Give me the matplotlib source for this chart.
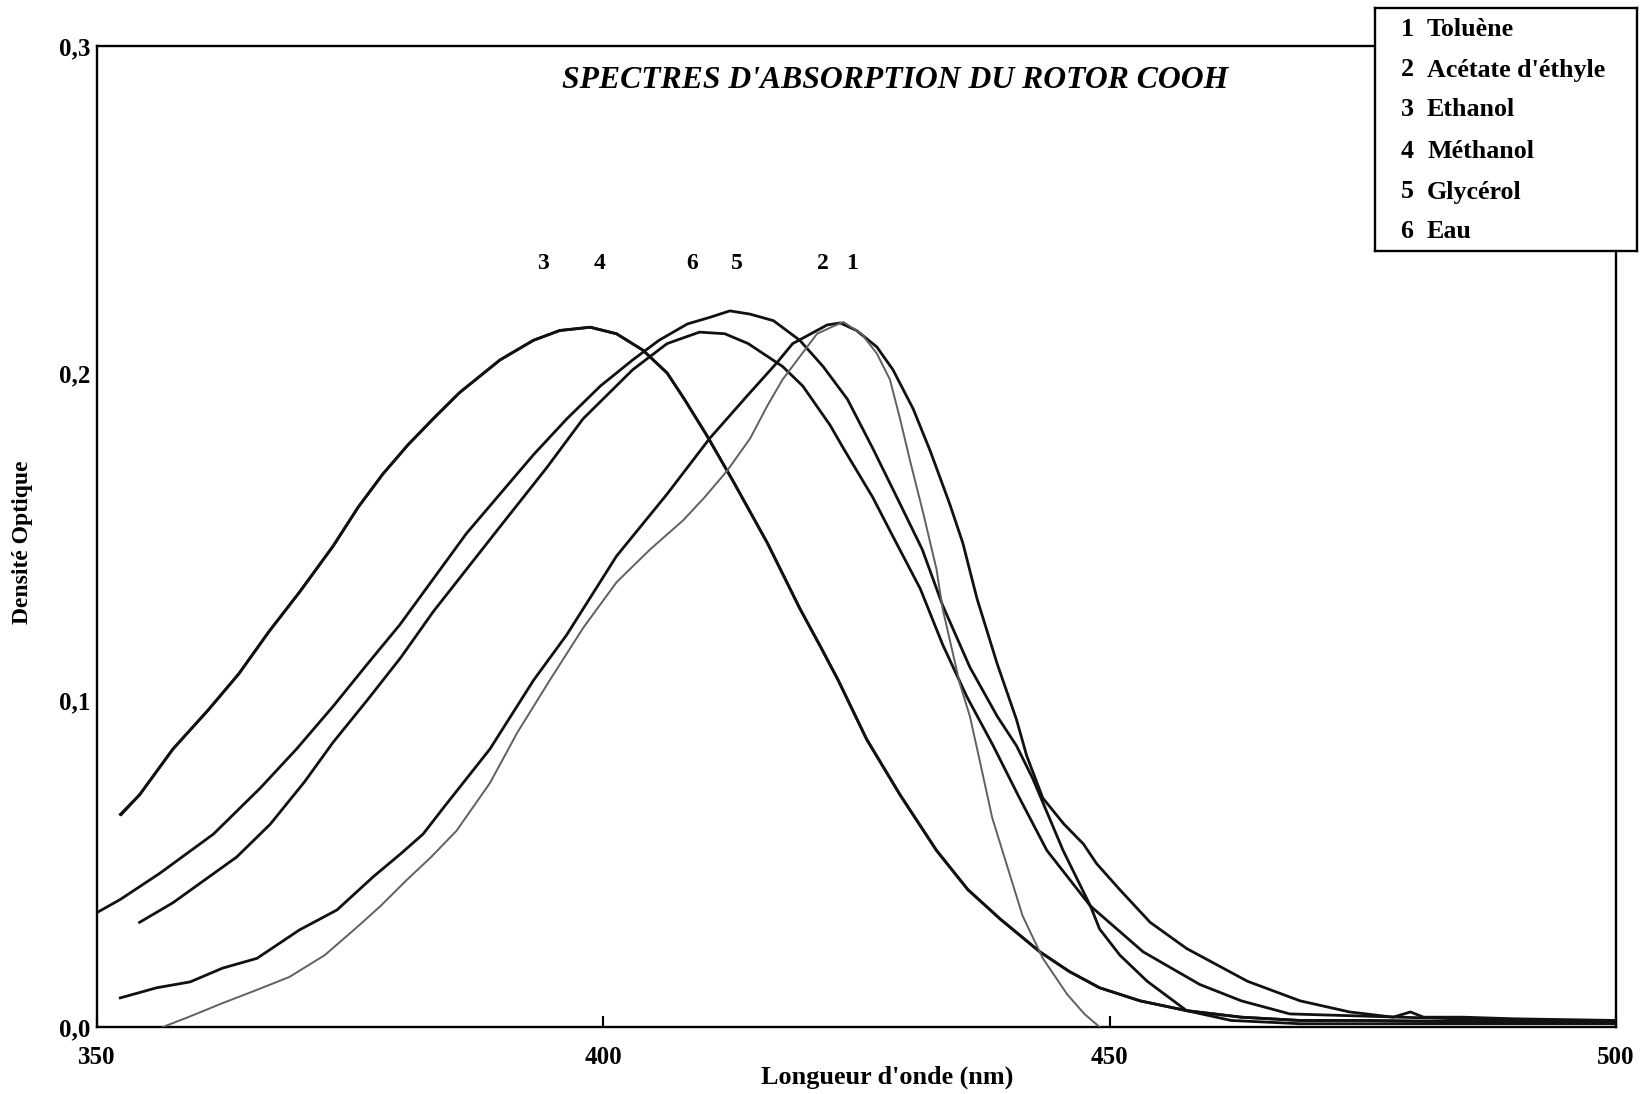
import matplotlib
matplotlib.use("Agg")
import matplotlib.pyplot as plt
from matplotlib.ticker import FixedLocator, FuncFormatter

plt.rcParams['font.family'] = ['Liberation Serif', 'DejaVu Serif']
plt.rcParams['font.weight'] = 'bold'

# --- donnees (longueur d'onde en nm, densite optique) ---
# 1 Toluene (trait gris)
wl1 = [356.5, 359.0, 362.4, 365.5, 369.0, 372.5, 375.7, 378.0, 380.6, 383.0, 385.5, 388.8,
       391.5, 394.7, 398.0, 401.3, 404.6, 407.9, 410.0, 412.2, 414.5, 416.2, 417.7, 419.4,
       421.1, 422.5, 423.7, 425.5, 427.0, 428.3, 429.3, 430.3, 431.6, 432.9, 433.5, 435.2,
       436.2, 437.2, 438.4, 439.2, 441.4, 443.4, 445.8, 447.5, 449.0]
do1 = [0.0, 0.003, 0.0073, 0.011, 0.0153, 0.022, 0.0306, 0.037, 0.045, 0.052, 0.060, 0.0746,
       0.090, 0.106, 0.122, 0.136, 0.146, 0.155, 0.162, 0.170, 0.180, 0.190, 0.198, 0.205,
       0.212, 0.214, 0.2156, 0.212, 0.206, 0.198, 0.186, 0.173, 0.157, 0.140, 0.128, 0.105,
       0.095, 0.081, 0.064, 0.056, 0.034, 0.021, 0.010, 0.004, 0.0]

# 2 Acetate d'ethyle
wl2 = [352.3, 355.9, 359.2, 362.4, 365.8, 370.0, 373.7, 377.3, 380.0, 382.2, 384.2, 386.5,
       388.8, 393.1, 396.4, 401.3, 406.3, 410.5, 414.2, 417.1, 418.7, 420.5, 422.1, 423.4,
       425.0, 427.0, 428.6, 430.6, 432.3, 434.2, 435.5, 436.9, 438.9, 440.8, 441.8, 443.4,
       445.5, 447.4, 448.7, 451.0, 454.0, 457.6, 463.6, 468.8, 473.7, 478.0, 479.7, 481.0,
       484.9, 490.0, 500.0]
do2 = [0.0089, 0.012, 0.0138, 0.018, 0.021, 0.0297, 0.0358, 0.046, 0.053, 0.059, 0.067, 0.076,
       0.085, 0.106, 0.120, 0.144, 0.163, 0.180, 0.193, 0.203, 0.209, 0.212, 0.2147, 0.2153,
       0.213, 0.208, 0.201, 0.189, 0.176, 0.160, 0.148, 0.131, 0.111, 0.094, 0.083, 0.070,
       0.062, 0.056, 0.050, 0.042, 0.032, 0.024, 0.014, 0.008, 0.0046, 0.003, 0.0046, 0.003,
       0.003, 0.0025, 0.002]

# 3 Ethanol
wl3 = [352.3, 354.2, 357.5, 361.0, 364.0, 367.0, 370.0, 373.3, 375.8, 378.2, 380.7, 383.2,
       385.8, 389.8, 393.1, 395.7, 398.7, 401.3, 403.9, 406.3, 408.0, 410.2, 412.8, 416.2,
       419.4, 421.5, 423.2, 426.0, 429.3, 432.9, 436.0, 439.2, 443.1, 446.0, 449.0, 453.0,
       457.6, 463.0, 468.8, 475.0, 480.0, 490.0, 500.0]
do3 = [0.065, 0.071, 0.085, 0.097, 0.108, 0.121, 0.133, 0.147, 0.159, 0.169, 0.178, 0.186,
       0.194, 0.204, 0.210, 0.213, 0.214, 0.212, 0.207, 0.200, 0.192, 0.181, 0.167, 0.148,
       0.128, 0.116, 0.106, 0.088, 0.071, 0.054, 0.042, 0.033, 0.023, 0.017, 0.012, 0.008,
       0.005, 0.003, 0.002, 0.002, 0.0018, 0.0015, 0.0012]

# 4 Methanol (confondu avec l'ethanol sur le trace)
wl4 = [352.4, 354.2, 357.5, 361.0, 364.0, 367.0, 370.0, 373.3, 375.8, 378.2, 380.7, 383.2,
       385.8, 389.8, 393.1, 395.7, 398.7, 401.3, 403.9, 406.3, 408.0, 410.2, 412.8, 416.2,
       419.4, 421.5, 423.2, 426.0, 429.3, 432.9, 436.0, 439.2, 443.1, 446.0, 449.0, 453.0,
       457.6, 463.0, 468.8, 475.0, 480.0, 490.0, 500.0]
do4 = [0.065, 0.071, 0.085, 0.097, 0.108, 0.121, 0.133, 0.147, 0.159, 0.169, 0.178, 0.186,
       0.194, 0.204, 0.210, 0.213, 0.214, 0.212, 0.207, 0.200, 0.192, 0.181, 0.167, 0.148,
       0.128, 0.116, 0.106, 0.088, 0.071, 0.054, 0.042, 0.033, 0.023, 0.017, 0.012, 0.008,
       0.005, 0.003, 0.002, 0.002, 0.0018, 0.0015, 0.0012]

# 5 Glycerol
wl5 = [350.0, 352.3, 356.2, 361.5, 366.1, 369.7, 373.3, 376.7, 379.9, 383.2, 386.5, 389.8,
       393.1, 396.4, 399.7, 402.9, 405.5, 408.3, 410.5, 412.5, 414.5, 416.8, 419.4, 421.7,
       424.1, 426.6, 429.3, 431.5, 433.5, 436.2, 438.9, 440.8, 442.4, 445.4, 448.1, 449.0,
       451.0, 453.7, 457.6, 462.0, 468.8, 480.0, 500.0]
do5 = [0.035, 0.039, 0.047, 0.059, 0.073, 0.085, 0.098, 0.111, 0.123, 0.137, 0.151, 0.163,
       0.175, 0.186, 0.196, 0.204, 0.210, 0.215, 0.217, 0.219, 0.218, 0.216, 0.210, 0.202,
       0.192, 0.177, 0.160, 0.146, 0.129, 0.110, 0.095, 0.086, 0.076, 0.054, 0.037, 0.030,
       0.022, 0.014, 0.005, 0.002, 0.001, 0.001, 0.001]

# 6 Eau
wl6 = [354.2, 357.5, 360.2, 363.8, 367.1, 370.5, 373.3, 376.7, 380.0, 383.2, 386.5, 389.8,
       394.4, 398.0, 402.9, 406.3, 409.5, 412.0, 414.3, 417.7, 419.7, 422.4, 423.7, 426.6,
       428.6, 431.3, 433.5, 435.9, 438.5, 441.1, 443.8, 448.1, 453.3, 458.9, 463.0, 467.8,
       478.7, 490.0, 500.0]
do6 = [0.032, 0.038, 0.044, 0.052, 0.062, 0.075, 0.087, 0.100, 0.113, 0.127, 0.140, 0.153,
       0.171, 0.186, 0.201, 0.209, 0.2125, 0.212, 0.209, 0.202, 0.196, 0.184, 0.177, 0.162,
       0.150, 0.134, 0.117, 0.101, 0.086, 0.070, 0.054, 0.037, 0.023, 0.013, 0.008, 0.004,
       0.003, 0.002, 0.0015]

noms = ["Toluène", "Acétate d'éthyle", "Ethanol", "Méthanol", "Glycérol", "Eau"]
# numeros au-dessus des pics
num_lab = ["3", "4", "6", "5", "2", "1"]
num_x = [394.0, 399.6, 408.8, 413.2, 421.7, 424.6]

xticks = [350, 400, 450, 500]
yticks = [0.0, 0.1, 0.2, 0.3]

W, H = 1643, 1094
fig = plt.figure(figsize=(W / 100, H / 100), dpi=100)
ax = fig.add_axes([97 / W, 1 - 1027 / H, (1616 - 97) / W, (1027 - 46) / H])

noir = "#111111"
for wl, do in [(wl3, do3), (wl4, do4), (wl6, do6), (wl5, do5), (wl2, do2)]:
    ax.plot(wl, do, color=noir, lw=2.0, solid_joinstyle='round', zorder=3)
ax.plot(wl1, do1, color="#606060", lw=1.4, solid_joinstyle='round', zorder=4)

ax.set_xlim(350, 500)
ax.set_ylim(0, 0.3)
ax.xaxis.set_major_locator(FixedLocator(xticks))
ax.yaxis.set_major_locator(FixedLocator(yticks))
ax.yaxis.set_major_formatter(FuncFormatter(lambda v, p: ("%.1f" % v).replace(".", ",")))
ax.tick_params(axis='x', direction='in', length=8, width=1.5, pad=14, labelsize=18)
ax.tick_params(axis='y', direction='in', length=0, width=1.5, pad=5, labelsize=18)
for s in ax.spines.values():
    s.set_linewidth(1.7)

for t, x in zip(num_lab, num_x):
    ax.text(x, 0.2335, t, ha='center', va='center', fontsize=17, fontweight='bold')

fig.text(895 / W, 1 - 80 / H, "SPECTRES D'ABSORPTION DU ROTOR COOH", ha='center', va='center',
         fontsize=22.8, fontweight='bold', style='italic')
fig.text(887 / W, 1 - 1077 / H, "Longueur d'onde (nm)", ha='center', va='center',
         fontsize=18.8, fontweight='bold')
fig.text(23 / W, 1 - 542 / H, "Densité Optique", ha='center', va='center', rotation=90,
         fontsize=17, fontweight='bold')

# cadre de legende
lax = fig.add_axes([1375 / W, 1 - 251 / H, (1637 - 1375) / W, (251 - 8) / H], zorder=5)
lax.set_xlim(1375, 1637)
lax.set_ylim(251, 8)
lax.set_xticks([])
lax.set_yticks([])
lax.set_facecolor('white')
for s in lax.spines.values():
    s.set_linewidth(1.7)
leg_y = [30, 70, 109, 152, 192, 232]
for i, (nom, y) in enumerate(zip(noms, leg_y)):
    lax.text(1407, y, str(i + 1), ha='center', va='center', fontsize=18.7, fontweight='bold')
    lax.text(1427, y, nom, ha='left', va='center', fontsize=18.7, fontweight='bold')

fig.savefig("out.png", dpi=100, facecolor='white')
